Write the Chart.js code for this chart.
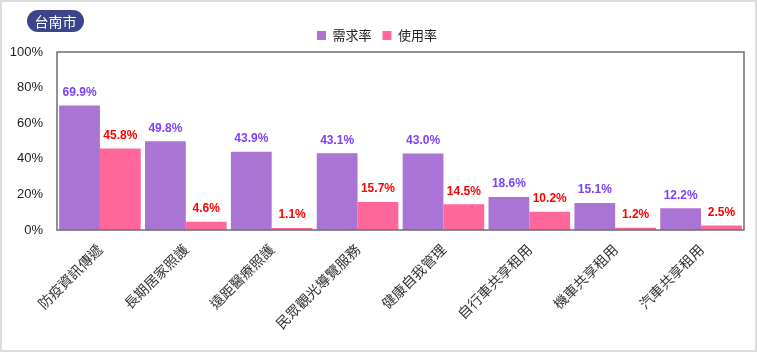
<!DOCTYPE html>
<html><head><meta charset="utf-8">
<script src="https://cdn.jsdelivr.net/npm/chart.js@4.4.0/dist/chart.umd.min.js"></script>
<style>
html,body{margin:0;padding:0;background:#fff;}
#wrap{position:relative;width:757px;height:352px;box-sizing:border-box;border:2px solid #dcdcdc;}
#badge{position:absolute;left:25px;top:8px;width:57px;height:22px;border-radius:11px;background:#3b4589;color:#fff;font:14px "Noto Sans CJK TC",sans-serif;line-height:22px;text-align:center;z-index:2;}
canvas{position:absolute;left:-2px;top:-2px;}
</style></head>
<body>
<div id="wrap"><div id="badge">台南市</div><canvas id="c" width="757" height="352"></canvas></div>
<script>
const title = "台南市";
const categories = ["防疫資訊傳遞","長期居家照護","遠距醫療照護","民眾觀光導覽服務","健康自我管理","自行車共享租用","機車共享租用","汽車共享租用"];
const seriesNames = ["需求率","使用率"];
const demand = [69.9,49.8,43.9,43.1,43.0,18.6,15.1,12.2];
const usage = [45.8,4.6,1.1,15.7,14.5,10.2,1.2,2.5];
const yTicks = [0,20,40,60,80,100];

const barLabels = {
  id:'barLabels',
  afterDatasetsDraw(chart){
    const ctx = chart.ctx;
    const colors = ['#7f3fff','#ff0000'];
    chart.data.datasets.forEach((ds,i)=>{
      const meta = chart.getDatasetMeta(i);
      meta.data.forEach((bar,j)=>{
        ctx.save();
        ctx.font = 'bold 12px "Liberation Sans", Arial, sans-serif';
        ctx.fillStyle = colors[i];
        ctx.textAlign = 'center';
        ctx.textBaseline = 'bottom';
        ctx.fillText(ds.data[j].toFixed(1)+'%', bar.x, bar.y - 7);
        ctx.restore();
      });
    });
  }
};
const frame = {
  id:'frame',
  afterDraw(chart){
    const a = chart.chartArea, ctx = chart.ctx;
    ctx.save();
    ctx.strokeStyle = '#6e6e6e';
    ctx.lineWidth = 1.5;
    ctx.strokeRect(a.left, a.top, a.right-a.left, a.bottom-a.top);
    ctx.restore();
  }
};

new Chart(document.getElementById('c'), {
  type:'bar',
  data:{
    labels:categories,
    datasets:[
      {label:seriesNames[0], data:demand, backgroundColor:'#a974d4', borderWidth:0},
      {label:seriesNames[1], data:usage, backgroundColor:'#ff6699', borderWidth:0}
    ]
  },
  options:{
    responsive:false,
    animation:false,
    layout:{padding:{left:10,right:13,top:18,bottom:0}},
    datasets:{bar:{categoryPercentage:0.95,barPercentage:1}},
    plugins:{
      legend:{
        position:'top',
        labels:{boxWidth:9,boxHeight:9,padding:11,color:'#222',font:{size:13,family:'"Noto Sans CJK TC", sans-serif'}}
      },
      tooltip:{enabled:false}
    },
    scales:{
      x:{
        grid:{display:false},
        border:{display:false},
        ticks:{minRotation:45,maxRotation:45,color:'#333',font:{size:14,family:'"Noto Sans CJK TC", sans-serif'}},
        afterFit(s){s.height=122;}
      },
      y:{
        min:0,max:100,
        afterBuildTicks(s){s.ticks=yTicks.map(v=>({value:v}));},
        grid:{display:false},
        border:{display:false},
        ticks:{color:'#222',font:{size:13,family:'"Liberation Sans", Arial, sans-serif'},padding:6,callback:v=>v+'%'},
        afterFit(s){s.width=47;}
      }
    }
  },
  plugins:[barLabels,frame]
});
</script>
</body></html>
